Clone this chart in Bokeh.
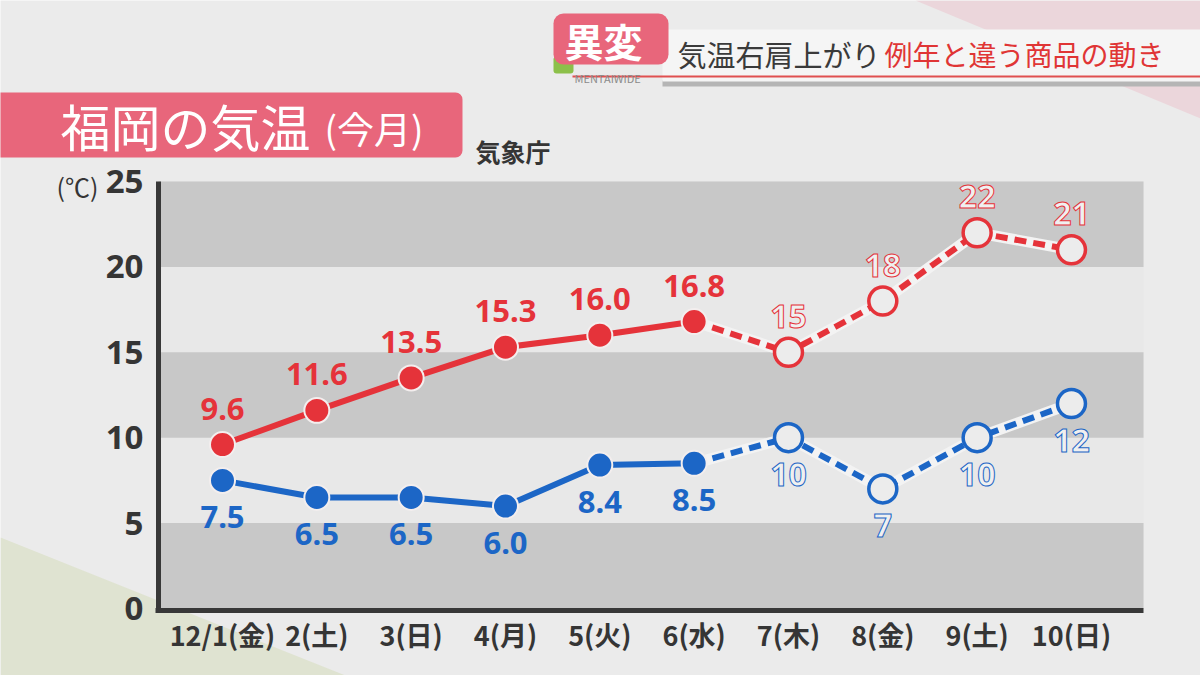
from bokeh.plotting import figure
from bokeh.models import (Range1d, FixedTicker, BoxAnnotation, PolyAnnotation, Label,
                          ColumnDataSource, LinearAxis)
from bokeh.core.properties import value
from bokeh.embed import file_html
from bokeh.resources import INLINE

# ---- data ----
days = ["12/1(金)", "2(土)", "3(日)", "4(月)", "5(火)", "6(水)", "7(木)", "8(金)", "9(土)", "10(日)"]
max_temp = [9.6, 11.6, 13.5, 15.3, 16.0, 16.8, 15, 18, 22, 21]
min_temp = [7.5, 6.5, 6.5, 6.0, 8.4, 8.5, 10, 7, 10, 12]
n_observed = 6          # first six days observed, rest forecast
y_ticks = [0, 5, 10, 15, 20, 25]
band_starts = [0, 10, 20]
band_height = 5

RED = "#e5333a"
BLUE = "#1c66c6"
DARK = "#353535"

# ---- geometry (canvas pixels) ----
W, H = 1200, 675
PL, PR, PT, PB = 158, 1143, 181, 608      # plot area
X0_PX, DX_PX = 222, 94.33                  # first day position, px per day
Y_MAX = 25
DY_PX = (PB - PT) / Y_MAX


def xd(px):
    return (px - X0_PX) / DX_PX


def yd(py):
    return (PB - py) / DY_PX


p = figure(width=W, height=H, x_range=Range1d(xd(0), xd(W)), y_range=Range1d(yd(H), yd(0)),
           output_backend="svg", toolbar_location=None,
           x_axis_location=None, y_axis_location=None,
           min_border=0, min_border_left=0, min_border_right=0, min_border_top=0, min_border_bottom=0)
p.background_fill_color = "#ebebeb"
p.border_fill_color = "#ebebeb"
p.outline_line_color = None
p.xgrid.grid_line_color = None
p.ygrid.grid_line_color = None

U = "canvas"   # canvas pixels, origin top-left

# ---- background decorations ----
p.add_layout(PolyAnnotation(xs=[0, 345, 0], ys=[537, 675, 675], xs_units=U, ys_units=U,
                            fill_color="#dfe3d1", fill_alpha=1, line_color=None, level="underlay"))
p.add_layout(PolyAnnotation(xs=[915, 1200, 1200], ys=[0, 0, 118], xs_units=U, ys_units=U,
                            fill_color="#ebd6db", fill_alpha=1, line_color=None, level="underlay"))

# plot area and bands
p.add_layout(BoxAnnotation(left=xd(PL), right=xd(PR), bottom=0, top=Y_MAX, fill_color="#e8e8e8",
                           fill_alpha=1, line_color=None, level="underlay"))
for b0 in band_starts:
    p.add_layout(BoxAnnotation(left=xd(PL), right=xd(PR), bottom=b0, top=b0 + band_height,
                               fill_color="#c8c8c8", fill_alpha=1, line_color=None, level="underlay"))


def cbox(x0, x1, y0, y1, color, radius=0):
    p.add_layout(BoxAnnotation(left=x0, right=x1, top=y0, bottom=y1,
                               left_units=U, right_units=U, top_units=U, bottom_units=U,
                               fill_color=color, fill_alpha=1, line_color=None, border_radius=radius,
                               level="underlay"))


# title box
cbox(-10, 462, 92, 157, "#e8667b", radius=7)
# header
cbox(662, 1200, 80, 86, "#b5b5b5")
cbox(662, 1200, 29, 81, "#f5f5f5")
cbox(572, 1200, 75, 77, "#e05050")
cbox(553, 573, 56, 73, "#8cc04a", radius=3)
cbox(553, 668, 13, 64, "#e8667b", radius=10)


def clabel(text, X, Y, size, color, font="Noto Sans CJK JP", style="normal", align="left"):
    p.add_layout(Label(x=X, y=Y, x_units=U, y_units=U, text=text,
                       text_font=font, text_font_size=f"{size}px", text_color=color, text_font_style=style,
                       text_align=align, text_baseline="middle"))


clabel("福岡の気温", 60, 124, 50, "#ffffff")
clabel("(今月)", 324, 127, 37, "#ffffff")
clabel("気象庁", 475, 150, 25, DARK, style="bold")
clabel("(℃)", 98, 185, 25, DARK, align="right")
clabel("異変", 564, 39, 39, "#ffffff", style="bold")
clabel("MENTAIWIDE", 574, 77, 11, "#8a8a8a")
clabel("気温右肩上がり", 677, 53, 29, "#3a3a3a")
clabel("例年と違う商品の動き", 884, 53, 28, "#e03535")

# ---- axes (fixed inside the canvas) ----
yaxis = LinearAxis(fixed_location=xd(PL), bounds=(0, Y_MAX), ticker=FixedTicker(ticks=y_ticks))
xaxis = LinearAxis(fixed_location=yd(PB + 2), bounds=(xd(PL - 3), xd(PR)),
                   ticker=FixedTicker(ticks=list(range(len(days)))),
                   major_label_overrides={i: d for i, d in enumerate(days)})
for ax in (xaxis, yaxis):
    ax.axis_line_width = 5
    ax.axis_line_color = "#383838"
    ax.major_tick_line_color = None
    ax.minor_tick_line_color = None
    ax.major_label_text_color = DARK
    ax.major_label_text_font_style = "bold"
yaxis.major_label_text_font = "Noto Sans"
yaxis.major_label_text_font_size = "33px"
yaxis.major_label_standoff = 9
xaxis.major_label_text_font = "Noto Sans CJK JP"
xaxis.major_label_text_font_size = "27px"
xaxis.major_label_standoff = -2
p.add_layout(yaxis, "left")
p.add_layout(xaxis, "below")

# ---- series ----
xs = list(range(len(days)))
k = n_observed
for temps, color, off in ((max_temp, RED, -36), (min_temp, BLUE, 37)):
    p.line(xs[:k], temps[:k], line_width=6, line_color=color)
    p.line(xs[k - 1:], temps[k - 1:], line_width=11, line_color="#f3f3f3")
    p.line(xs[k - 1:], temps[k - 1:], line_width=6, line_color=color, line_dash="12 7")
    p.scatter(xs[:k], temps[:k], size=25, fill_color=color, line_color="#f3eeee", line_width=2)
    p.scatter(xs[k:], temps[k:], size=28, fill_color="#ececec", line_color=color, line_width=3.5)
    obs = ColumnDataSource(dict(x=xs[:k], y=temps[:k], t=[f"{v:.1f}" for v in temps[:k]]))
    fc = ColumnDataSource(dict(x=xs[k:], y=temps[k:], t=[f"{v:.0f}" for v in temps[k:]]))
    p.text("x", "y", "t", source=obs, y_offset=off, text_align="center", text_baseline="middle",
           text_font=value("Noto Sans"), text_font_style="bold", text_font_size="31px",
           text_color=color)
    p.text("x", "y", "t", source=fc, y_offset=off, text_align="center", text_baseline="middle",
           text_font=value("Noto Sans"), text_font_style="bold", text_font_size="32px",
           text_color="#f0f0f0", text_outline_color=color)

open("out.html", "w").write(file_html(p, INLINE))
